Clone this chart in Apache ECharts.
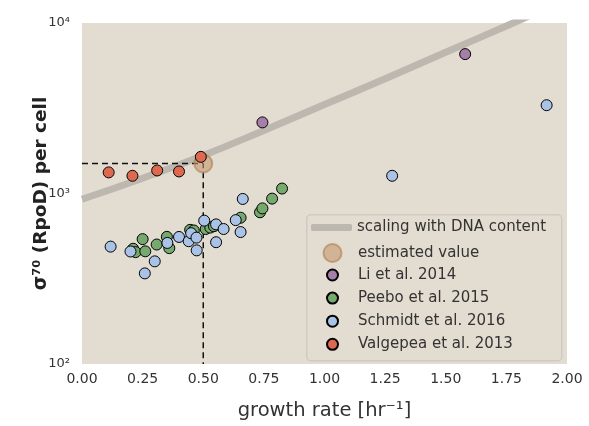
<!DOCTYPE html>
<html>
<head>
<meta charset="utf-8">
<script src="https://cdn.jsdelivr.net/npm/echarts@6/dist/echarts.min.js"></script>
<style>
html,body{margin:0;padding:0;background:#fff;}
#chart{width:589px;height:426px;}
</style>
</head>
<body>
<div id="chart"></div>
<script>
// ---- data ----
const xTicks = [0, 0.25, 0.5, 0.75, 1.0, 1.25, 1.5, 1.75, 2.0];
const yTicks = [100, 1000, 10000];

// scaling with DNA content
const dnaX = [0, 0.25, 0.5, 0.75, 1.0, 1.25, 1.5, 1.75, 2.0];
const dnaY = [925, 1230, 1670, 2344, 3325, 4710, 6730, 9610, 13800];

// estimated value
const estX = [0.5];
const estY = [1500];

// dashed guide lines
const guideX = [0, 0.5, 0.5];
const guideY = [1500, 1500, 100];

// Li et al. 2014
const liX = [0.744, 1.58];
const liY = [2612, 6570];

// Peebo et al. 2015
const peeboX = [0.250, 0.211, 0.221, 0.261, 0.308, 0.350, 0.360, 0.446, 0.461, 0.510, 0.529, 0.544, 0.654, 0.734, 0.744, 0.784, 0.825];
const peeboY = [540, 474, 453, 458, 502, 557, 478, 612, 607, 619, 631, 643, 721, 776, 818, 933, 1069];

// Schmidt et al. 2016
const schmidtX = [0.118, 0.200, 0.259, 0.300, 0.352, 0.400, 0.440, 0.450, 0.472, 0.473, 0.504, 0.553, 0.584, 0.553, 0.634, 0.654, 0.663, 1.279, 1.916];
const schmidtY = [488, 457, 340, 400, 513, 556, 525, 585, 551, 464, 693, 659, 619, 518, 698, 594, 929, 1270, 3295];

// Valgepea et al. 2013
const valX = [0.11, 0.208, 0.31, 0.40, 0.49];
const valY = [1330, 1270, 1365, 1347, 1640];

const names = {
  dna: 'scaling with DNA content',
  est: 'estimated value',
  li: 'Li et al. 2014',
  peebo: 'Peebo et al. 2015',
  schmidt: 'Schmidt et al. 2016',
  val: 'Valgepea et al. 2013'
};

const zip = (a, b) => a.map((v, i) => [v, b[i]]);
const FONT = 'DejaVu Sans';
const sup = {'0':'⁰','1':'¹','2':'²','3':'³','4':'⁴','5':'⁵','6':'⁶','7':'⁷','8':'⁸','9':'⁹'};

const chart = echarts.init(document.getElementById('chart'), null, {renderer: 'canvas'});

const pointStyle = (c) => ({color: c, borderColor: '#000', borderWidth: 1, opacity: 1});
const legendText = {fontFamily: FONT, fontSize: 15, color: '#333'};

chart.setOption({
  animation: false,
  backgroundColor: '#ffffff',
  textStyle: {fontFamily: FONT},
  grid: {
    left: 82, right: 22, top: 23, bottom: 60,
    show: true, backgroundColor: '#E3DCD1', borderWidth: 0
  },
  xAxis: {
    type: 'value', min: 0, max: 2, interval: 0.25,
    axisLine: {show: false}, axisTick: {show: false}, splitLine: {show: false},
    axisLabel: {
      fontFamily: FONT, fontSize: 14, color: '#333', margin: 8,
      formatter: (v) => v.toFixed(2)
    },
    name: 'growth rate [hr⁻¹]', nameLocation: 'middle', nameGap: 37,
    nameTextStyle: {fontFamily: FONT, fontSize: 19.5, color: '#333'}
  },
  yAxis: {
    type: 'log', logBase: 10, min: yTicks[0], max: yTicks[yTicks.length - 1],
    axisLine: {show: false}, axisTick: {show: false}, splitLine: {show: false},
    minorTick: {show: false},
    axisLabel: {
      fontFamily: FONT, fontSize: 13, color: '#333', margin: 12,
      formatter: (v) => '10' + String(Math.round(Math.log10(v))).split('').map(d => sup[d]).join('')
    },
    name: 'σ⁷⁰ (RpoD) per cell', nameLocation: 'middle', nameGap: 31,
    nameMoveOverlap: false,
    nameTextStyle: {fontFamily: FONT, fontSize: 18.5, fontWeight: 'bold', color: '#222'}
  },
  graphic: [{
    type: 'rect', left: 306, top: 214, z: 1,
    shape: {width: 255, height: 146, r: 4},
    style: {fill: '#E3DCD1', stroke: '#cfcac2', lineWidth: 1.5}
  }],
  legend: [{
    data: [{name: names.dna, icon: 'roundRect'}],
    left: 311, top: 220, padding: 0,
    itemWidth: 41, itemHeight: 7,
    textStyle: legendText, z: 5
  }, {
    data: [{name: names.est, icon: 'circle'}],
    left: 322.5, top: 243, padding: 0,
    itemWidth: 41, itemHeight: 18,
    textStyle: legendText, z: 5
  }, {
    data: [names.li, names.peebo, names.schmidt, names.val],
    orient: 'vertical', left: 326, top: 267.5, padding: 0,
    itemWidth: 41, itemHeight: 11, itemGap: 8.1,
    textStyle: legendText, z: 5
  }],
  series: [{
    name: names.dna, type: 'line', smooth: true, symbol: 'none', clip: true,
    data: zip(dnaX, dnaY),
    lineStyle: {color: '#BDB8AF', width: 7, cap: 'butt'},
    itemStyle: {color: '#BDB8AF'}, z: 2
  }, {
    name: 'guide', type: 'line', symbol: 'none', clip: true,
    data: zip(guideX, guideY),
    lineStyle: {color: '#111', width: 1.5, type: [6, 4]}, z: 3
  }, {
    name: names.est, type: 'scatter', symbolSize: 18,
    data: zip(estX, estY),
    itemStyle: {color: 'rgba(196,152,110,0.75)', borderColor: 'rgba(176,128,85,0.8)', borderWidth: 2}, z: 4
  }, {
    name: names.li, type: 'scatter', symbolSize: 11,
    data: zip(liX, liY), itemStyle: pointStyle('#A67FA9'), z: 5
  }, {
    name: names.peebo, type: 'scatter', symbolSize: 11,
    data: zip(peeboX, peeboY), itemStyle: pointStyle('#75A96E'), z: 5
  }, {
    name: names.schmidt, type: 'scatter', symbolSize: 11,
    data: zip(schmidtX, schmidtY), itemStyle: pointStyle('#A8C3E6'), z: 5
  }, {
    name: names.val, type: 'scatter', symbolSize: 11,
    data: zip(valX, valY), itemStyle: pointStyle('#DD6A50'), z: 5
  }]
});
</script>
</body>
</html>
